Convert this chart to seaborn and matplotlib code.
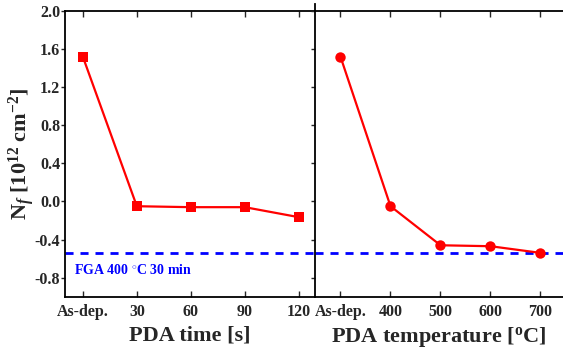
import numpy as np
import pandas as pd
import matplotlib
matplotlib.use("Agg")
import matplotlib.pyplot as plt
import seaborn as sns

# data
time_labels = ["As-dep.", "30", "60", "90", "120"]
time_nf = [1.52, -0.05, -0.06, -0.06, -0.165]
temp_labels = ["As-dep.", "400", "500", "600", "700"]
temp_nf = [1.52, -0.05, -0.46, -0.47, -0.54]
fga_level = -0.54
y_ticks = [-0.8, -0.4, 0.0, 0.4, 0.8, 1.2, 1.6, 2.0]

sns.set_style("ticks")
plt.rcParams["font.family"] = ["Liberation Serif", "DejaVu Serif"]
plt.rcParams["font.weight"] = "bold"
plt.rcParams["mathtext.fontset"] = "custom"
plt.rcParams["mathtext.rm"] = "Liberation Serif:bold"
plt.rcParams["mathtext.it"] = "Liberation Serif:italic:bold"
plt.rcParams["mathtext.bf"] = "Liberation Serif:bold"

fig = plt.figure(figsize=(5.63, 3.56), dpi=100)
ax1 = fig.add_axes([0.1155, 0.1666, 0.444, 0.8025])
ax2 = fig.add_axes([0.5595, 0.1666, 0.4405, 0.8025], sharey=ax1)

df_time = pd.DataFrame({"pos": np.arange(len(time_labels)), "nf": time_nf})
df_temp = pd.DataFrame({"pos": np.arange(len(temp_labels)), "nf": temp_nf})

sns.lineplot(data=df_time, x="pos", y="nf", ax=ax1, color="#ff0000", lw=1.6,
             marker="s", markersize=6.5, markeredgewidth=0)
sns.lineplot(data=df_temp, x="pos", y="nf", ax=ax2, color="#ff0000", lw=1.6,
             marker="o", markersize=7.5, markeredgewidth=0)

for ax in (ax1, ax2):
    ax.axhline(fga_level, color="#0000ff", lw=2.0, ls=(0, (2.9, 2.5)), zorder=1)
    ax.set_ylim(-1.0, 2.0)
    ax.set_xticks(np.arange(5))
    ax.tick_params(axis="x", direction="in", top=True, length=4, width=1,
                   labelsize=11.5, pad=5)
    ax.tick_params(axis="y", direction="out", length=3, width=1,
                   labelsize=11.5, pad=0.5)
    for s in ax.spines.values():
        s.set_linewidth(1.3)
        s.set_color("black")

ax1.set_xlim(-0.33, 4.3)
ax2.set_xlim(-0.51, 4.45)
ax1.set_yticks(y_ticks)
ax1.set_yticklabels([f"{v:.1f}" for v in y_ticks], fontweight="bold")
ax1.set_xticklabels(time_labels, fontweight="bold")
ax2.set_xticklabels(temp_labels, fontweight="bold")
ax2.tick_params(axis="y", labelleft=False)
ax2.spines["right"].set_visible(False)
ax1.spines["right"].set_visible(False)
ax2.spines["left"].set_bounds(-1.0, 2.07)

ax1.set_xlabel("PDA time [s]", fontsize=16, fontweight="bold", labelpad=4)
ax2.set_xlabel(r"PDA temperature [$^{\rm o}$C]", fontsize=16, fontweight="bold", labelpad=4)
ax1.set_ylabel(r"N$_{f}$ [10$^{12}$ cm$^{-2}$]", fontsize=16, fontweight="bold")
ax1.yaxis.set_label_coords(-0.112, 0.5)
ax2.set_ylabel("")

ax1.text(-0.17, -0.72, r"FGA 400 $^{\circ}$C 30 min", color="#0000ff",
         fontsize=10, fontweight="bold", va="center", transform=ax1.transData)

fig.savefig("out.png", dpi=100)
